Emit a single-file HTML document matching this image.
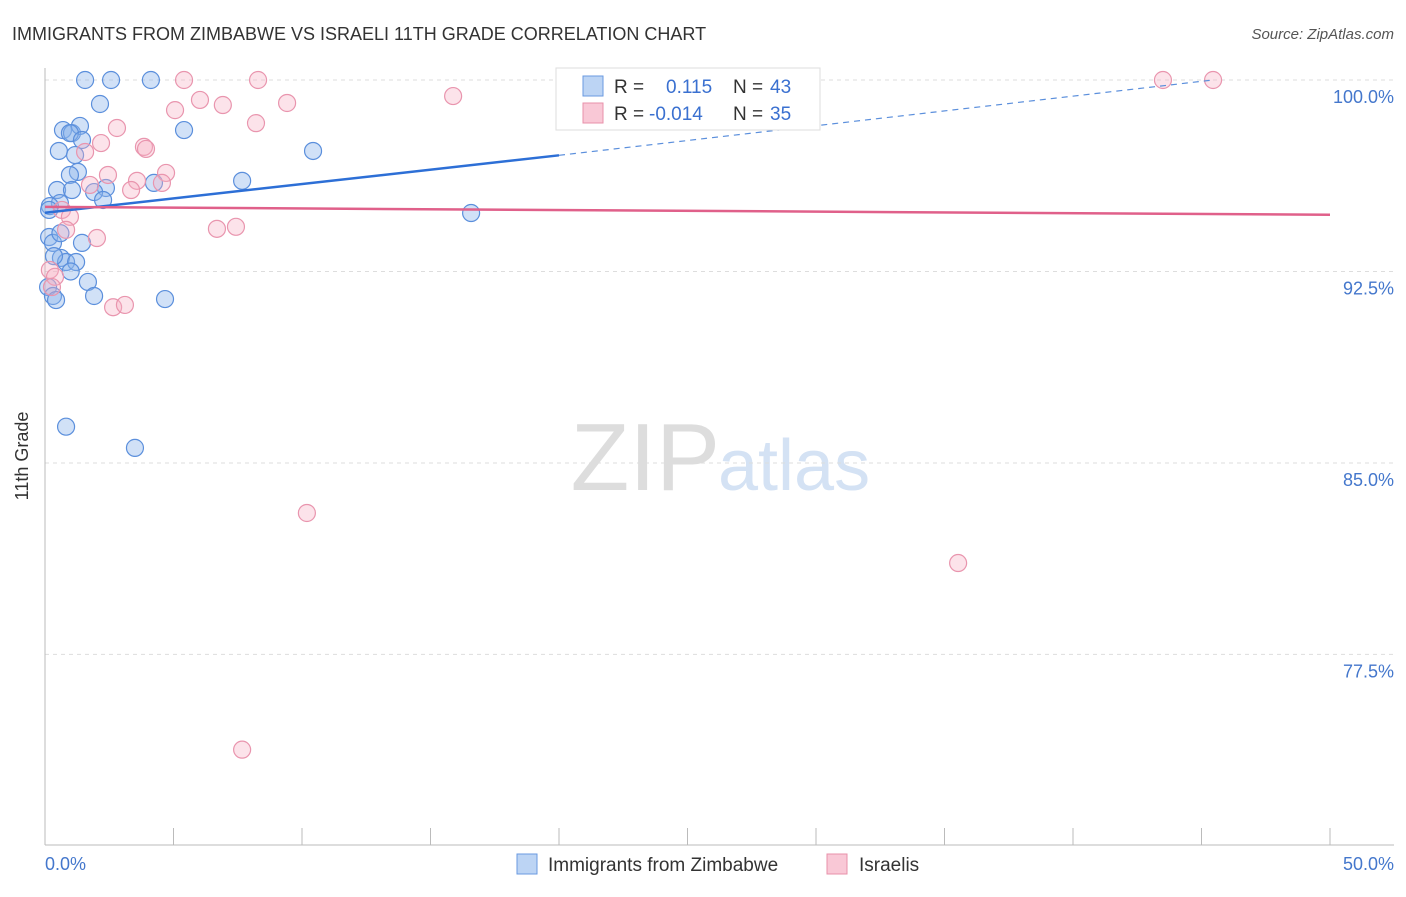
<!DOCTYPE html>
<html><head><meta charset="utf-8"><style>
body{margin:0;background:#fff;font-family:"Liberation Sans",sans-serif}
text{font-family:"Liberation Sans",sans-serif}
</style></head><body>
<svg width="1406" height="892">
<text x="12" y="40" font-size="18" fill="#333">IMMIGRANTS FROM ZIMBABWE VS ISRAELI 11TH GRADE CORRELATION CHART</text>
<text x="1394" y="39" font-size="15" fill="#555" font-style="italic" text-anchor="end">Source: ZipAtlas.com</text>
<text x="720" y="490" font-size="96" fill="#ddd" text-anchor="end" font-family="Liberation Serif">ZIP</text>
<text x="718" y="490" font-size="72" fill="#d4e2f4">atlas</text>
<g id="grid"></g>
<line x1="45" y1="68" x2="45" y2="845" stroke="#bbb"/>
<line x1="45" y1="845" x2="1394" y2="845" stroke="#bbb"/>
<text x="28" y="456" font-size="18" fill="#333" transform="rotate(-90 28 456)" text-anchor="middle">11th Grade</text>
<text x="45" y="870" font-size="18" fill="#4477cc">0.0%</text>
<text x="1394" y="870" font-size="18" fill="#4477cc" text-anchor="end">50.0%</text>
<g id="marks"></g>
<g>
<rect x="556" y="68" width="264" height="62" fill="#fff" stroke="#ddd"/>
<rect x="583" y="76" width="20" height="20" fill="#bcd4f4" stroke="#6a9ae0"/>
<rect x="583" y="103" width="20" height="20" fill="#f9c8d6" stroke="#e890aa"/>
<text x="614" y="93" font-size="19" fill="#333">R =</text>
<text x="666" y="93" font-size="19" fill="#3a70d0">0.115</text>
<text x="733" y="93" font-size="19" fill="#333">N =</text>
<text x="770" y="93" font-size="19" fill="#3a70d0">43</text>
<text x="614" y="120" font-size="19" fill="#333">R =</text>
<text x="649" y="120" font-size="19" fill="#3a70d0">-0.014</text>
<text x="733" y="120" font-size="19" fill="#333">N =</text>
<text x="770" y="120" font-size="19" fill="#3a70d0">35</text>
</g>
<g>
<rect x="517" y="854" width="20" height="20" fill="#bcd4f4" stroke="#6a9ae0"/>
<text x="548" y="871" font-size="19" fill="#333">Immigrants from Zimbabwe</text>
<rect x="827" y="854" width="20" height="20" fill="#f9c8d6" stroke="#e890aa"/>
<text x="859" y="871" font-size="19" fill="#333">Israelis</text>
</g>
</svg>
<script>
const yTicks=[100,92.5,85,77.5];
const yTickLabels=["100.0%","92.5%","85.0%","77.5%"];
const xTicks=[0,5,10,15,20,25,30,35,40,45,50];
const blueX=[1.56,2.57,4.12,2.14,5.41,0.70,1.05,1.36,0.97,1.44,0.54,1.17,10.43,1.28,0.97,7.67,4.24,0.47,1.05,2.37,1.91,2.26,0.58,0.19,0.16,16.58,0.16,0.31,1.44,0.62,0.82,1.21,1.67,0.12,1.91,0.31,0.43,4.67,0.82,3.50,0.35,0.60,1.00];
const blueY=[100,100,100,99.06,98.04,98.04,97.92,98.2,97.92,97.65,97.22,97.06,97.22,96.4,96.28,96.05,95.97,95.69,95.69,95.77,95.61,95.3,95.18,95.06,94.91,94.79,93.85,93.62,93.62,93.03,92.87,92.87,92.09,91.89,91.54,91.54,91.38,91.42,86.42,85.59,93.1,94.0,92.5];
const pinkX=[5.41,8.29,6.03,9.42,6.92,5.06,15.88,2.80,8.21,2.18,3.85,3.93,1.56,2.45,4.71,3.58,4.55,1.75,3.35,0.66,0.97,0.82,2.02,6.69,7.43,0.19,0.39,0.27,2.65,3.11,10.19,35.53,7.67,43.5,45.45];
const pinkY=[100,100,99.22,99.1,99.02,98.82,99.37,98.12,98.31,97.53,97.38,97.3,97.18,96.28,96.36,96.05,95.97,95.89,95.69,94.91,94.64,94.13,93.81,94.17,94.25,92.56,92.29,91.89,91.1,91.19,83.04,81.08,73.77,100,100];
const blueTrend=[[0,94.8],[20,97.05],[45.45,100]];
const pinkTrend=[[0,95.03],[50,94.72]];
const X=v=>45+v*25.7, Y=v=>80+(100-v)*25.53;
const ns="http://www.w3.org/2000/svg";
const grid=document.getElementById('grid'), marks=document.getElementById('marks'), svg=document.querySelector('svg');
function mk(t,a,p){const e=document.createElementNS(ns,t);for(const k in a)e.setAttribute(k,a[k]);p.appendChild(e);return e;}
yTicks.forEach((t,i)=>{
  const l=mk('line',{x1:45,x2:1394,y1:Y(t),y2:Y(t),stroke:'#ddd','stroke-dasharray':'4,4'},grid);
  
  
  const tx=mk('text',{x:1394,y:Y(t)+23,'font-size':18,fill:'#4477cc','text-anchor':'end'},svg);
  tx.textContent=yTickLabels[i];
  
  
});
xTicks.forEach(t=>{
  const l=mk('line',{x1:X(t),x2:X(t),y1:828,y2:845,stroke:'#bbb'},grid);
  
  
});
blueX.forEach((x,i)=>{
  const c=mk('circle',{cx:X(x),cy:Y(blueY[i]),r:8.5,fill:'rgba(140,180,235,0.4)',stroke:'#5b8fdc','stroke-width':1.2},marks);
  
  
});
pinkX.forEach((x,i)=>{
  const c=mk('circle',{cx:X(x),cy:Y(pinkY[i]),r:8.5,fill:'rgba(245,175,195,0.35)',stroke:'#e995ae','stroke-width':1.2},marks);
  
  
});
let l=mk('line',{x1:X(blueTrend[0][0]),y1:Y(blueTrend[0][1]),x2:X(blueTrend[1][0]),y2:Y(blueTrend[1][1]),stroke:'#2d6fd6','stroke-width':2.5},marks);


l=mk('line',{x1:X(blueTrend[1][0]),y1:Y(blueTrend[1][1]),x2:X(blueTrend[2][0]),y2:Y(blueTrend[2][1]),stroke:'#5b8fdc','stroke-width':1.2,'stroke-dasharray':'6,5'},marks);


l=mk('line',{x1:X(pinkTrend[0][0]),y1:Y(pinkTrend[0][1]),x2:X(pinkTrend[1][0]),y2:Y(pinkTrend[1][1]),stroke:'#e0608a','stroke-width':2.5},marks);


</script>
</body></html>
